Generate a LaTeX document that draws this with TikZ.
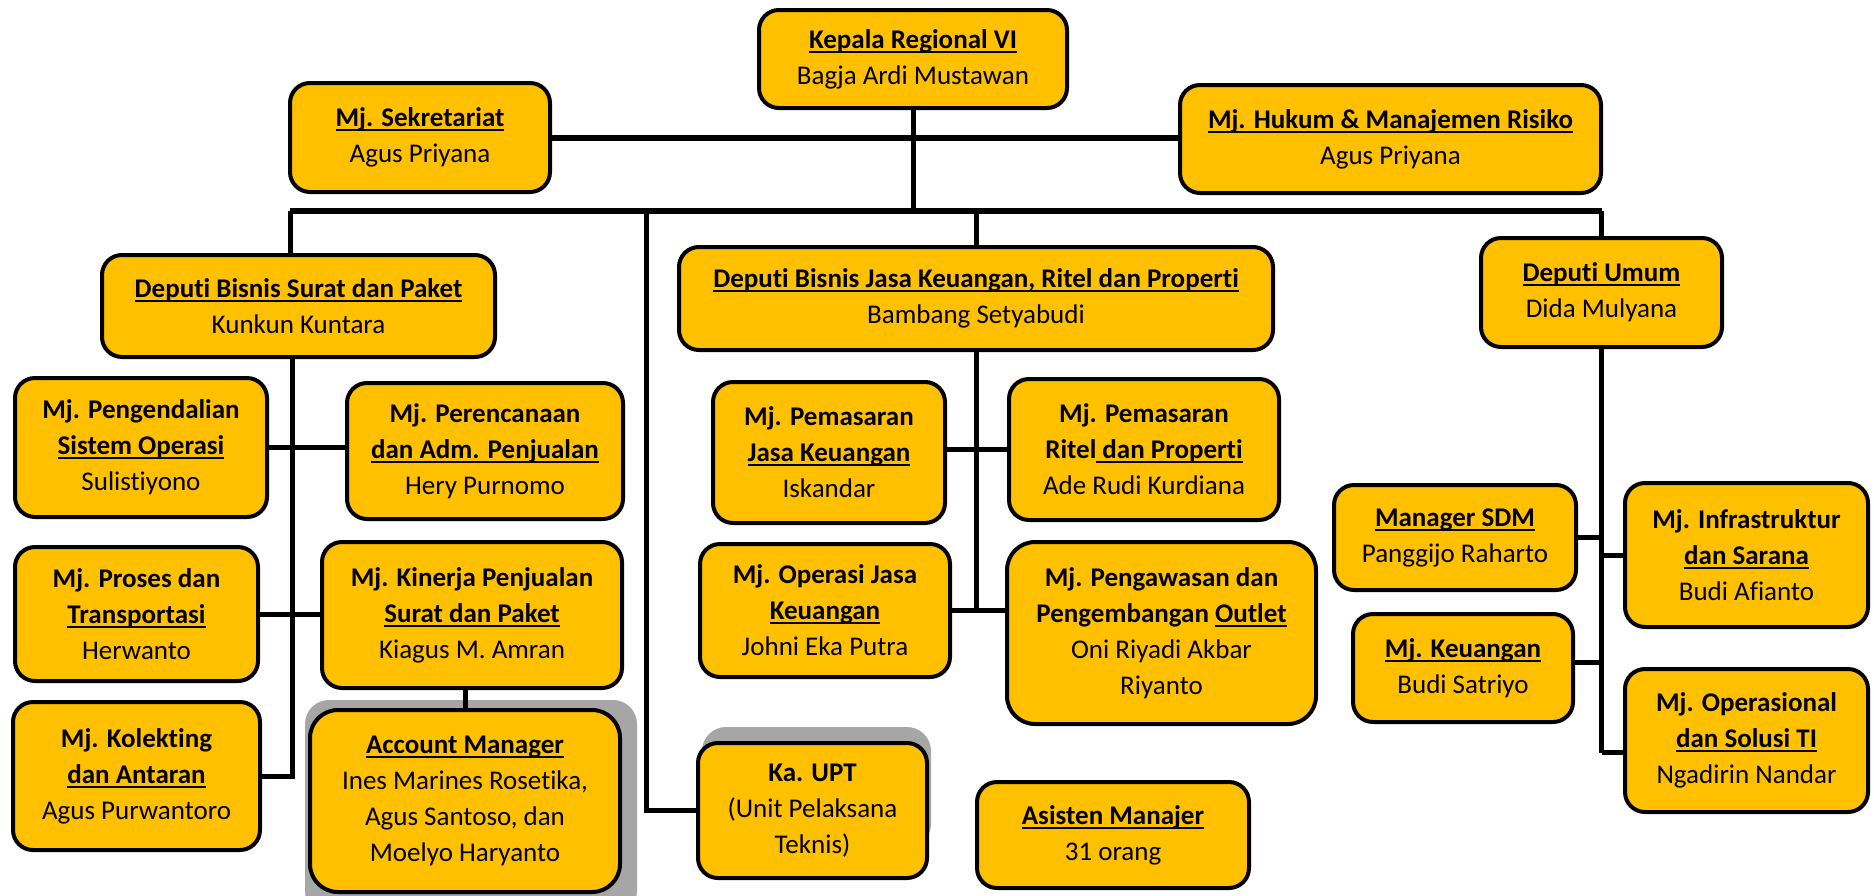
\documentclass[tikz,border=0pt]{standalone}
\usepackage{fontspec}
\setmainfont{Carlito}[Ligatures={NoCommon,NoRare}, RawFeature=-calt, RawFeature=-clig]

\definecolor{gold}{HTML}{FFC000}
\definecolor{shadowgray}{HTML}{A6A6A6}

% underline that sits at a fixed depth under the baseline
\newcommand{\ulbox}[1]{\setbox0\hbox{#1}\rlap{\rule[-4.5pt]{\wd0}{2pt}}\box0}
\newcommand{\hd}[1]{\textbf{\ulbox{#1}}}

\tikzset{
    box/.style={draw, line width=4pt, fill=gold, rounded corners=20pt,
        align=center, inner sep=0pt,
        font=\fontsize{27}{36}\selectfont},
    conn/.style={line width=5pt},
    bus/.style={line width=6pt},
    shade/.style={fill=shadowgray, rounded corners=24pt}
}

\begin{document}
\begin{tikzpicture}[x=1pt, y=-1pt]

    \useasboundingbox (0, 0) rectangle (1874, 895);

    % Shadows behind the two lower boxes
    \fill[shade] (305, 700) rectangle (637, 915);
    \fill[shade] (702, 727) rectangle (931, 848);

    % Make the top level
    \node[box, minimum width=308pt, minimum height=98pt] (kepala) at (913, 59)
        {\hd{Kepala Regional VI}\\Bagja Ardi Mustawan};
    \node[box, minimum width=260pt, minimum height=109pt] (sekre) at (420, 137.5)
        {\hd{Mj. Sekretariat}\\Agus Priyana};
    \node[box, minimum width=421pt, minimum height=108pt] (hukum) at (1390.5, 139)
        {\hd{Mj. Hukum \& Manajemen Risiko}\\Agus Priyana};

    % Make the deputies
    \node[box, minimum width=393pt, minimum height=102pt] (deputiSP) at (298.5, 306)
        {\hd{Deputi Bisnis Surat dan Paket}\\Kunkun Kuntara};
    \node[box, minimum width=594pt, minimum height=103pt] (deputiJK) at (976, 298.5)
        {\hd{Deputi Bisnis Jasa Keuangan, Ritel dan Properti}\\Bambang Setyabudi};
    \node[box, minimum width=241pt, minimum height=109pt] (deputiUmum) at (1601.5, 292.5)
        {\hd{Deputi Umum}\\Dida Mulyana};

    % Make the Surat dan Paket branch
    \node[box, minimum width=252pt, minimum height=139pt] (pengendalian) at (141, 447.5)
        {\textbf{Mj. Pengendalian}\\\hd{Sistem Operasi}\\Sulistiyono};
    \node[box, minimum width=276pt, minimum height=136pt] (perencanaan) at (485, 451)
        {\textbf{Mj. Perencanaan}\\\hd{dan Adm. Penjualan}\\Hery Purnomo};
    \node[box, minimum width=243pt, minimum height=134pt] (proses) at (136.5, 614)
        {\textbf{Mj. Proses dan}\\\hd{Transportasi}\\Herwanto};
    \node[box, minimum width=300pt, minimum height=146pt] (kinerja) at (472, 615)
        {\textbf{Mj. Kinerja Penjualan}\\\hd{Surat dan Paket}\\Kiagus M. Amran};
    \node[box, minimum width=247pt, minimum height=148pt] (kolekting) at (136.5, 776)
        {\textbf{Mj. Kolekting}\\\hd{dan Antaran}\\Agus Purwantoro};
    \node[box, rounded corners=28pt, minimum width=310pt, minimum height=182pt] (account) at (465, 801)
        {\hd{Account Manager}\\Ines Marines Rosetika,\\Agus Santoso, dan\\Moelyo Haryanto};
    \node[box, minimum width=229pt, minimum height=135pt] (kaupt) at (812.5, 810.5)
        {\textbf{Ka. UPT}\\(Unit Pelaksana\\Teknis)};

    % Make the Jasa Keuangan branch
    \node[box, minimum width=232pt, minimum height=141pt] (pemasaranJK) at (829, 452.5)
        {\textbf{Mj. Pemasaran}\\\hd{Jasa Keuangan}\\Iskandar};
    \node[box, minimum width=270pt, minimum height=141pt] (pemasaranRP) at (1144, 449.5)
        {\textbf{Mj. Pemasaran}\\\textbf{Ritel\ulbox{ dan Properti}}\\Ade Rudi Kurdiana};
    \node[box, minimum width=250pt, minimum height=133pt] (operasiJK) at (825, 610.5)
        {\textbf{Mj. Operasi Jasa}\\\hd{Keuangan}\\Johni Eka Putra};
    \node[box, rounded corners=28pt, minimum width=309pt, minimum height=182pt] (pengawasan) at (1161.5, 633)
        {\textbf{Mj. Pengawasan dan}\\\textbf{Pengembangan \ulbox{Outlet}}\\Oni Riyadi Akbar\\Riyanto};
    \node[box, minimum width=272pt, minimum height=106pt] (asisten) at (1113, 835)
        {\hd{Asisten Manajer}\\31 orang};

    % Make the Umum branch
    \node[box, minimum width=242pt, minimum height=105pt] (sdm) at (1455, 537.5)
        {\hd{Manager SDM}\\Panggijo Raharto};
    \node[box, minimum width=243pt, minimum height=144pt] (infra) at (1746.5, 555)
        {\textbf{Mj. Infrastruktur}\\\hd{dan Sarana}\\Budi Afianto};
    \node[box, minimum width=220pt, minimum height=108pt] (keuangan) at (1463, 668)
        {\hd{Mj. Keuangan}\\Budi Satriyo};
    \node[box, minimum width=243pt, minimum height=143pt] (operasional) at (1746.5, 740.5)
        {\textbf{Mj. Operasional}\\\hd{dan Solusi TI}\\Ngadirin Nandar};

    % Top lines and the bus
    \coordinate (busL) at (290, 211);
    \coordinate (busR) at (deputiUmum.north |- busL);
    \coordinate (uptTop) at (646, 211);
    \coordinate (spLine) at (292, 0);
    \coordinate (keuJoin) at ([yshift=6pt]keuangan.east);
    \coordinate (opJoin) at ([yshift=-12pt]operasional.west);

    \draw[bus] (sekre.east) -- (sekre.east -| hukum.west);
    \draw[bus] (busL) -- (busR);
    \draw[conn] (kepala.south) -- (kepala.south |- busL);
    \draw[conn] (busL) -- (busL |- deputiSP.north);
    \draw[conn] (deputiJK.north |- busL) -- (deputiJK.north);
    \draw[conn] (busR) -- (deputiUmum.north);
    \draw[conn] (uptTop) |- (kaupt.west);

    % Surat dan Paket lines
    \draw[conn] (spLine |- deputiSP.south) |- (kolekting.east);
    \draw[conn] (pengendalian.east) -- (pengendalian.east -| perencanaan.west);
    \draw[conn] (proses.east) -- (proses.east -| kinerja.west);
    \draw[conn] (kinerja.south -| account.north) -- (account.north);

    % Jasa Keuangan lines
    \draw[conn] (deputiJK.south) -- (deputiJK.south |- operasiJK.east);
    \draw[conn] (pemasaranRP.west) -- (pemasaranRP.west -| pemasaranJK.east);
    \draw[conn] (operasiJK.east) -- (operasiJK.east -| pengawasan.west);

    % Umum lines
    \draw[conn] (deputiUmum.south) -- (deputiUmum.south |- opJoin);
    \draw[conn] (sdm.east) -- (sdm.east -| deputiUmum.south);
    \draw[conn] (infra.west) -- (infra.west -| deputiUmum.south);
    \draw[conn] (keuJoin) -- (keuJoin -| deputiUmum.south);
    \draw[conn] (opJoin) -- (opJoin -| deputiUmum.south);

\end{tikzpicture}
\end{document}
